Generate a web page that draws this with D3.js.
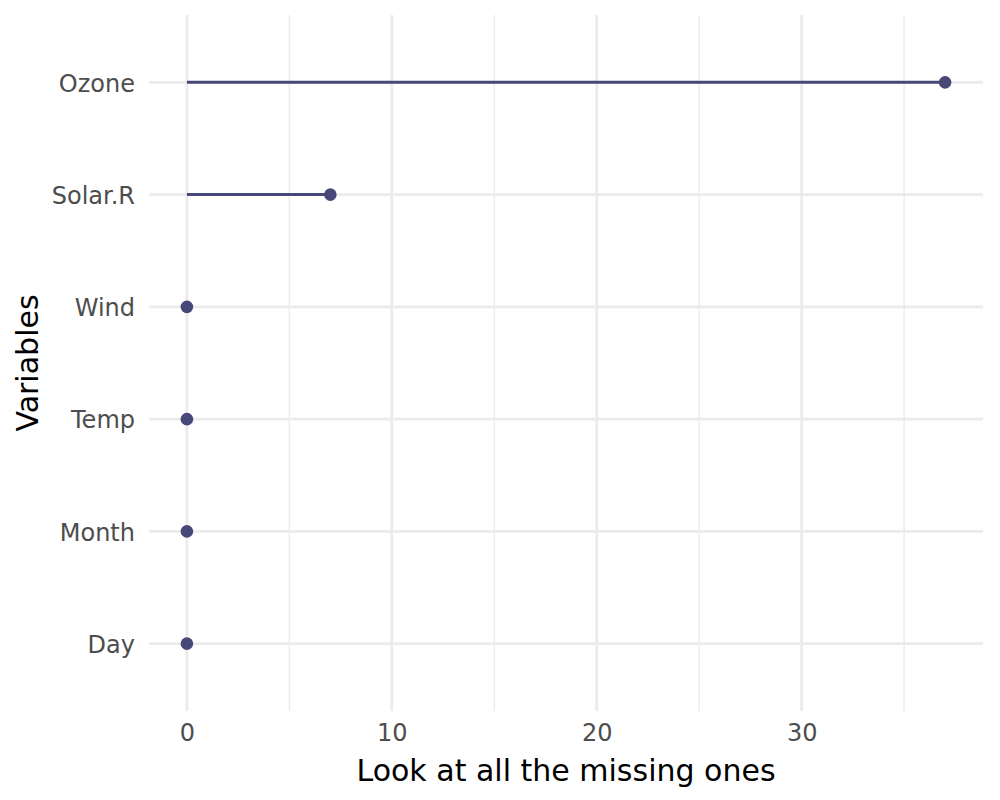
<!DOCTYPE html>
<html>
<head>
<meta charset="utf-8">
<script src="https://cdn.jsdelivr.net/npm/d3@7"></script>
<style>
  body { margin: 0; background: #fff; }
</style>
</head>
<body>
<div id="chart"></div>
<script>
// number of missing values per variable
const variables = ["Ozone", "Solar.R", "Wind", "Temp", "Month", "Day"];
const nMiss = [37, 7, 0, 0, 0, 0];
const xMajor = [0, 10, 20, 30];
const xMinor = [5, 15, 25, 35];

function draw() {
    const width = 1000, height = 800;
    const left = 149, right = 983, top = 15, bottom = 711;
    const col = "#484878";
    const font = "DejaVu Sans, Verdana, sans-serif";

    const svg = d3.select("#chart").append("svg")
        .attr("width", width)
        .attr("height", height)
        .attr("font-family", font);

    const data = variables.map((v, i) => ({ v: v, n: nMiss[i] }));

    // ggplot style 5% expansion
    const xMax = d3.max(nMiss);
    const x = d3.scaleLinear()
        .domain([-0.05 * xMax, xMax * 1.05])
        .range([left, right]);
    const y = d3.scalePoint()
        .domain(variables)
        .range([top, bottom])
        .padding(0.6);

    const grid = svg.append("g");
    grid.selectAll(".minor").data(xMinor).enter().append("line")
        .attr("x1", d => x(d)).attr("x2", d => x(d))
        .attr("y1", top).attr("y2", bottom)
        .attr("stroke", "#ebebeb").attr("stroke-width", 1.4);
    grid.selectAll(".major").data(xMajor).enter().append("line")
        .attr("x1", d => x(d)).attr("x2", d => x(d))
        .attr("y1", top).attr("y2", bottom)
        .attr("stroke", "#ebebeb").attr("stroke-width", 2.8);
    grid.selectAll(".hmaj").data(variables).enter().append("line")
        .attr("x1", left).attr("x2", right)
        .attr("y1", d => y(d)).attr("y2", d => y(d))
        .attr("stroke", "#ebebeb").attr("stroke-width", 2.8);

    // axes (no lines, just labels)
    const xAxis = svg.append("g")
        .attr("transform", "translate(0," + bottom + ")")
        .call(d3.axisBottom(x).tickValues(xMajor).tickSize(0).tickPadding(13));
    xAxis.attr("font-family", font).attr("font-size", 24);
    xAxis.select(".domain").remove();
    xAxis.selectAll("text").attr("fill", "#4d4d4d");

    const yAxis = svg.append("g")
        .attr("transform", "translate(" + left + ",1)")
        .call(d3.axisLeft(y).tickSize(0).tickPadding(14));
    yAxis.attr("font-family", font).attr("font-size", 24);
    yAxis.select(".domain").remove();
    yAxis.selectAll("text").attr("fill", "#4d4d4d");

    // lollipops
    svg.append("g").selectAll("line").data(data).enter().append("line")
        .attr("x1", x(0)).attr("x2", d => x(d.n))
        .attr("y1", d => y(d.v)).attr("y2", d => y(d.v))
        .attr("stroke", col).attr("stroke-width", 3);
    svg.append("g").selectAll("circle").data(data).enter().append("circle")
        .attr("cx", d => x(d.n))
        .attr("cy", d => y(d.v))
        .attr("r", 6.3)
        .attr("fill", col);

    // axis titles
    svg.append("text")
        .attr("x", (left + right) / 2)
        .attr("y", 781)
        .attr("text-anchor", "middle")
        .attr("fill", "#000")
        .attr("font-size", 30)
        .text("Look at all the missing ones");
    svg.append("text")
        .attr("transform", "translate(38," + ((top + bottom) / 2) + ") rotate(-90)")
        .attr("text-anchor", "middle")
        .attr("fill", "#000")
        .attr("font-size", 30)
        .text("Variables");
}

window.addEventListener("load", draw);
</script>
</body>
</html>
